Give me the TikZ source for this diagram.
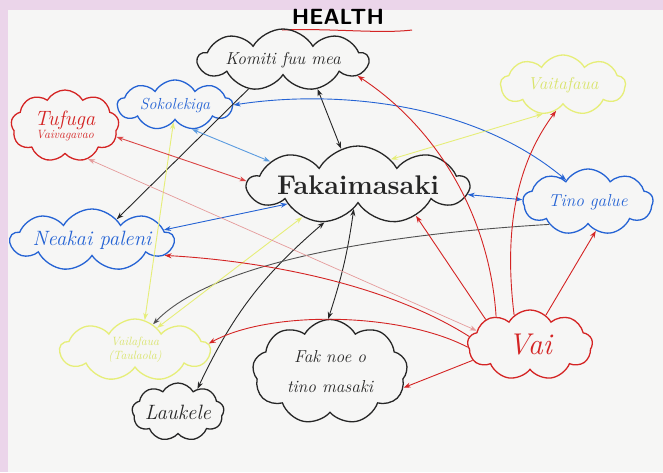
\documentclass[tikz,border=0pt]{standalone}
\usetikzlibrary{shapes.symbols,arrows.meta}
\definecolor{ink}{HTML}{262626}
\definecolor{bl}{HTML}{2563D4}
\definecolor{lbl}{HTML}{5A9BE0}
\definecolor{rd}{HTML}{D42424}
\definecolor{pk}{HTML}{E59A9A}
\definecolor{yl}{HTML}{E6EE78}
\definecolor{ylt}{HTML}{D9E46A}
\definecolor{frame}{HTML}{EBD5EA}
\definecolor{board}{HTML}{F6F6F5}
\tikzset{
  cl/.style={cloud, cloud puffs=9, cloud puff arc=120, cloud ignores aspect, draw, line width=1.3pt, align=center, inner sep=0pt, font=\itshape},
  blackcl/.style={cl, draw=ink, text=ink},
  bluecl/.style={cl, draw=bl, text=bl},
  redcl/.style={cl, draw=rd, text=rd},
  yellowcl/.style={cl, draw=yl, text=ylt},
  con/.style={line width=0.9pt, -{Stealth[length=7pt,width=5pt]}},
  bicon/.style={line width=0.9pt, {Stealth[length=7pt,width=5pt]}-{Stealth[length=7pt,width=5pt]}},
}
\begin{document}
\begin{tikzpicture}[x=1pt,y=-1pt]
\useasboundingbox (0,0) rectangle (663,472);
\fill[frame] (0,0) rectangle (663,472);
\fill[board] (8,10) rectangle (663,472);

% title
\node[font=\sffamily\bfseries\fontsize{22}{24}\selectfont, text=black] (title) at (338,17) {HEALTH};
\draw[rd, line width=1pt] (282,30) .. controls (330,28) and (380,34) .. (412,30);

% clouds
\node[blackcl, minimum width=170, minimum height=62, font=\itshape\LARGE] (komiti) at (283,60) {Komiti fuu mea};
\node[bluecl, minimum width=115, minimum height=50, font=\itshape\fontsize{16}{18}\selectfont] (soko) at (175,105) {Sokolekiga};
\node[redcl, minimum width=108, minimum height=72, font=\itshape] (tufuga) at (65,126) {{\huge Tufuga}\\[-1pt]{\large Vaivagavao}};
\node[blackcl, minimum width=220, minimum height=78, font=\bfseries\fontsize{27}{30}\selectfont] (faka) at (358,185) {Fakaimasaki};
\node[yellowcl, minimum width=125, minimum height=60, font=\itshape\LARGE] (vaitaf) at (563,85) {Vaitafaua};
\node[bluecl, minimum width=130, minimum height=66, font=\itshape\LARGE] (tino) at (588,202) {Tino galue};
\node[bluecl, minimum width=160, minimum height=62, font=\itshape\huge] (neakai) at (92,240) {Neakai paleni};
\node[yellowcl, minimum width=150, minimum height=62, font=\itshape\large] (ybl) at (135,350) {Vailafaua\\(Taulaola)};
\node[blackcl, minimum width=155, minimum height=105, font=\itshape\LARGE] (faknoe) at (330,372) {Fak noe o\\[8pt] tino masaki};
\node[blackcl, minimum width=92, minimum height=58, font=\itshape\huge] (laukele) at (178,412) {Laukele};
\node[redcl, minimum width=125, minimum height=70, font=\itshape\fontsize{30}{32}\selectfont] (vai) at (530,345) {Vai};

% black connectors
\draw[bicon, ink] (komiti.-40) -- (faka.115);
\draw[con, ink] (komiti.-140) -- (neakai.40);
\draw[bicon, ink] (faka.-100) to[bend left=5] (faknoe.92);
\draw[bicon, ink] (faka.-132) to[bend right=12] (laukele.50);
\draw[con, ink!80] (tino.-150) .. controls (420,232) and (220,255) .. (ybl.55);

% blue connectors
\draw[bicon, bl] (soko.east) .. controls (330,90) and (470,100) .. (tino.135);
\draw[bicon, lbl] (soko.-55) -- (faka.165);
\draw[bicon, bl] (neakai.8) -- (faka.195);
\draw[bicon, bl] (faka.-5) -- (tino.178);

% yellow connectors
\draw[bicon, yl] (faka.38) -- (vaitaf.-125);
\draw[bicon, yl] (soko.-95) -- (ybl.72);
\draw[bicon, yl] (faka.-150) -- (ybl.45);

% red connectors
\draw[con, rd] (vai.140) .. controls (490,220) and (440,130) .. (komiti.-12);
\draw[con, rd] (vai.118) .. controls (505,240) and (512,170) .. (vaitaf.-105);
\draw[con, rd] (vai.62) -- (tino.-75);
\draw[con, rd] (vai.150) -- (faka.-28);
\draw[bicon, rd!85] (tufuga.-12) -- (faka.178);
\draw[bicon, pk, line width=0.7pt] (tufuga.-55) -- (vai.165);
\draw[con, rd] (vai.172) .. controls (380,280) and (250,260) .. (neakai.-12);
\draw[con, rd] (vai.182) .. controls (400,312) and (270,310) .. (ybl.5);
\draw[con, rd] (vai.-165) -- (faknoe.-12);
\end{tikzpicture}
\end{document}
